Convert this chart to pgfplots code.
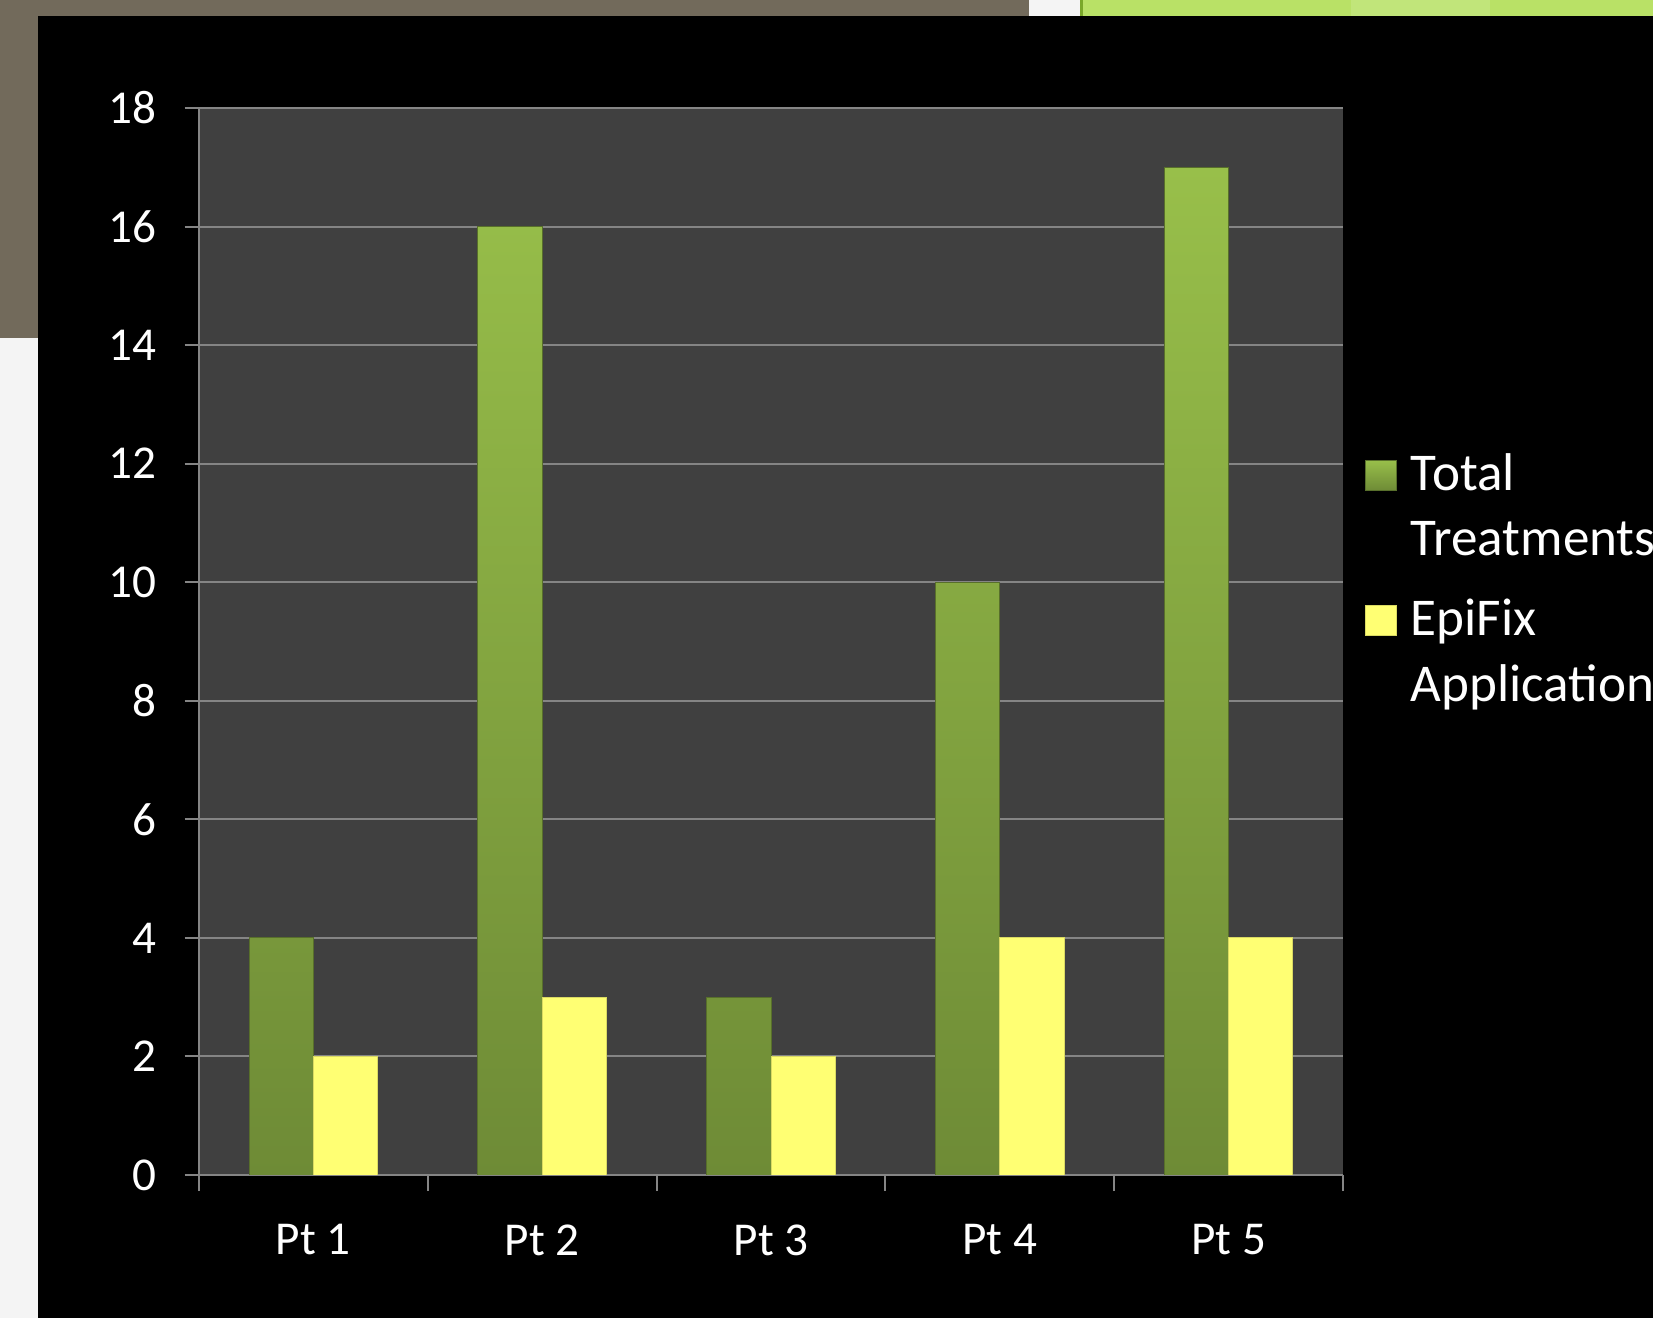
\documentclass[border=0pt]{standalone}
\usepackage{fontspec}
\setmainfont{Carlito}
\usepackage{pgfplots}
\pgfplotsset{compat=1.18}
\definecolor{bgbeige}{HTML}{726A5B}
\definecolor{bglight}{HTML}{F4F4F4}
\definecolor{bggreen}{HTML}{B9E166}
\definecolor{bggreenlt}{HTML}{C1E57A}
\definecolor{bggreendk}{HTML}{7AA82A}
\definecolor{plotbg}{HTML}{404040}
\definecolor{gridgray}{HTML}{858585}
\definecolor{greentop}{HTML}{98BF4A}
\definecolor{greenbot}{HTML}{6E8B36}
\definecolor{yellowbar}{HTML}{FFFF73}

\begin{document}
\begin{tikzpicture}
  % slide background (1 unit = 1 px of the reference)
  \begin{scope}[x=0.3bp,y=0.3bp]
    \clip (0,0) rectangle (1653,1318);
    \fill[bglight] (0,0) rectangle (1653,1318);
    \fill[bgbeige] (0,980) rectangle (1029,1318);
    \fill[bggreen] (1080,1302) rectangle (1653,1318);
    \fill[bggreenlt] (1351,1302) rectangle (1490,1318);
    \fill[bggreendk] (1080,1302) rectangle (1083,1318);
    \fill[black] (38,0) rectangle (1653,1302);
  \end{scope}
  \begin{axis}[
    at={(59.7bp,42.9bp)}, anchor=south west,
    width=343.2bp, height=320.1bp, scale only axis,
    xmin=0.5, xmax=5.5, ymin=0, ymax=18,
    axis lines=left,
    axis line style={gridgray, line width=0.6bp, -},
    axis background/.style={fill=plotbg},
    ytick={0,2,...,18},
    xtick={1,...,5},
    xticklabels={Pt 1,Pt 2,Pt 3,Pt 4,Pt 5},
    minor xtick={0.5,1.5,...,5.5},
    major x tick style={draw=none},
    tick style={gridgray, line width=0.6bp},
    tick align=outside,
    major tick length=4.35bp, minor tick length=4.8bp,
    ymajorgrids=true,
    grid style={gridgray, line width=0.6bp},
    ticklabel style={white, font=\fontsize{14.2}{17}\selectfont},
    yticklabel style={xshift=-5bp},
    xticklabel style={yshift=-7bp},
    /pgf/number format/assume math mode=true,
    bar width=0.281,
    legend image code/.code={\draw[#1] (0bp,0bp) rectangle (9.2bp,9bp);},
    legend style={at={(1.0192,0.676)}, anchor=north west,
      draw=none, fill=none, inner sep=0pt, outer sep=0pt,
      column sep=4.3bp, row sep=5.1bp,
      font=\fontsize{16}{19}\selectfont, text=white,
      cells={anchor=base west},
      nodes={text height=11bp, text depth=3.5bp, inner sep=0pt}},
  ]
    \addplot[ybar, bar shift=-0.1405, top color=greentop, bottom color=greenbot,
      draw=greenbot!80!black, line width=0.3bp]
      coordinates {(1,4)(2,16)(3,3)(4,10)(5,17)};
    \addlegendentry{Total}
    \addlegendimage{empty legend}
    \addlegendentry[text depth=7.9bp]{Treatments}
    \addplot[ybar, bar shift=0.1405, fill=yellowbar,
      draw=yellowbar!85!black, line width=0.3bp]
      coordinates {(1,2)(2,3)(3,2)(4,4)(5,4)};
    \addlegendentry{EpiFix}
    \addlegendimage{empty legend}
    \addlegendentry{Applications}
  \end{axis}
  % the slide is cut at the picture's edge, as in the reference
  \pgfresetboundingbox
  \useasboundingbox (0,0) rectangle (495.9bp,395.4bp);
\end{tikzpicture}
\end{document}
